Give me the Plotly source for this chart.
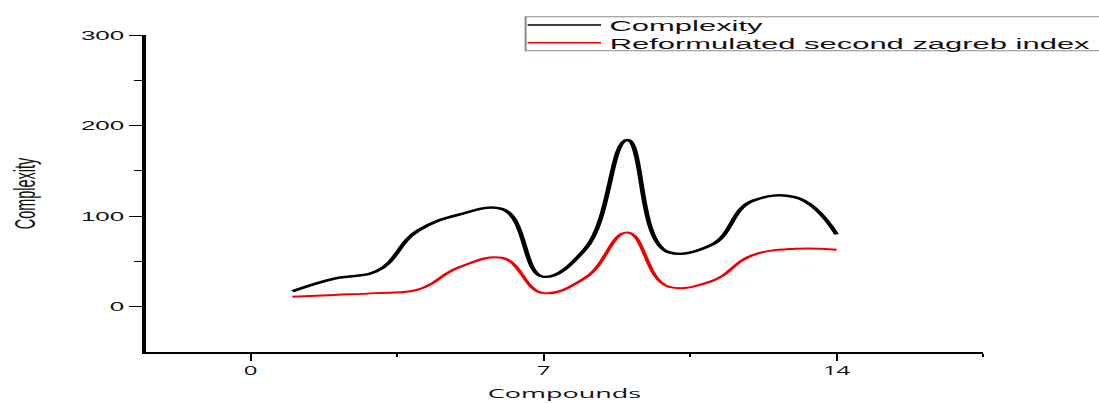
import plotly.graph_objects as go

# ---------------- data ----------------
compounds = list(range(1, 15))
complexity = [17, 31, 39, 84, 102, 108, 33, 64, 184, 60, 68, 117, 121, 80]
rszi = [11, 13, 15, 19, 44, 54, 15, 32, 82, 22, 28, 57, 64, 63]
x_tick_vals = [0, 7, 14]
x_minor_vals = [3.5, 10.5, 17.5]
y_tick_vals = [0, 100, 200, 300]
y_minor_vals = [50, 150, 250]
series_names = ["Complexity", "Reformulated second zagreb index"]
series_colors = ["#000000", "#ee0000"]

# ---------------- geometry ----------------
# The reference picture is horizontally stretched ~2x; draw at half width and stretch.
W_OUT, W, H = 1099, 550, 403
S = W_OUT / W
L, R, T, B = 72.6, 58.2, 35.0, 50.7
PW = W - L - R
PH = H - T - B


def sx(p):  # screen px (reference) -> paper x
    return (p / S - L) / PW


def sy(p):  # screen px (reference) -> paper y
    return (H - B - p) / PH


fig = go.Figure()
fig.add_trace(go.Scatter(x=compounds, y=complexity, mode="lines", name=series_names[0],
                         line=dict(color=series_colors[0], width=2.4, shape="spline", smoothing=1.2)))
fig.add_trace(go.Scatter(x=compounds, y=rszi, mode="lines", name=series_names[1],
                         line=dict(color=series_colors[1], width=2.0, shape="spline", smoothing=1.2)))

# ---------------- manual legend (box runs off the right edge as in the reference) ----------------
shapes = [dict(type="rect", xref="paper", yref="paper", x0=sx(525), x1=1.4, y0=sy(50.7), y1=sy(16.7),
               line=dict(color="#8a8a8a", width=1), fillcolor="rgba(0,0,0,0)", layer="above")]
annotations = []
for name, color, yc in zip(series_names, series_colors, [25.0, 42.7]):
    shapes.append(dict(type="line", xref="paper", yref="paper", x0=sx(527), x1=sx(600.5),
                       y0=sy(yc), y1=sy(yc), line=dict(color=color, width=1.6)))
    annotations.append(dict(xref="paper", yref="paper", x=sx(605), y=sy(yc + 0.5), xanchor="left",
                            yanchor="middle", text=name, showarrow=False,
                            font=dict(family="Liberation Sans, Arial", size=15.5, color="#111111")))

fig.update_layout(
    width=W, height=H, autosize=False,
    margin=dict(l=L, r=R, t=T, b=B, pad=0, autoexpand=False),
    paper_bgcolor="white", plot_bgcolor="white",
    showlegend=False,
    shapes=shapes, annotations=annotations,
    xaxis=dict(range=[-2.5, 17.5], tickmode="array", tickvals=x_tick_vals, ticks="outside",
               ticklen=7, tickwidth=1, tickcolor="black", showline=True, linecolor="black",
               linewidth=1.5, showgrid=False, zeroline=False,
               minor=dict(tickmode="array", tickvals=x_minor_vals, ticks="outside", ticklen=3.5,
                          tickwidth=1, tickcolor="black", showgrid=False),
               tickfont=dict(family="Open Sans", size=12, color="#111111"),
               title=dict(text="Compounds", font=dict(family="Open Sans", size=13.5, color="#111111"),
                          standoff=10)),
    yaxis=dict(range=[-50, 300], tickmode="array", tickvals=y_tick_vals, ticks="outside",
               ticklen=6.5, tickwidth=1, tickcolor="black", showline=True, linecolor="black",
               linewidth=1.5, showgrid=False, zeroline=False,
               minor=dict(tickmode="array", tickvals=y_minor_vals, ticks="outside", ticklen=4,
                          tickwidth=1, tickcolor="black", showgrid=False),
               tickfont=dict(family="Liberation Sans, Arial", size=13, color="#111111"),
               title=dict(text="Complexity", font=dict(family="Liberation Sans, Arial", size=14.5,
                                                      color="#111111"), standoff=19)),
)

post = (
    "document.body.style.margin='0';"
    "var gd=document.getElementById('{plot_id}');"
    "gd.style.transformOrigin='0 0';"
    "gd.style.transform='scaleX(" + str(S) + ")';"
)

fig.write_html("out.html", config={"displayModeBar": False}, post_script=post)
